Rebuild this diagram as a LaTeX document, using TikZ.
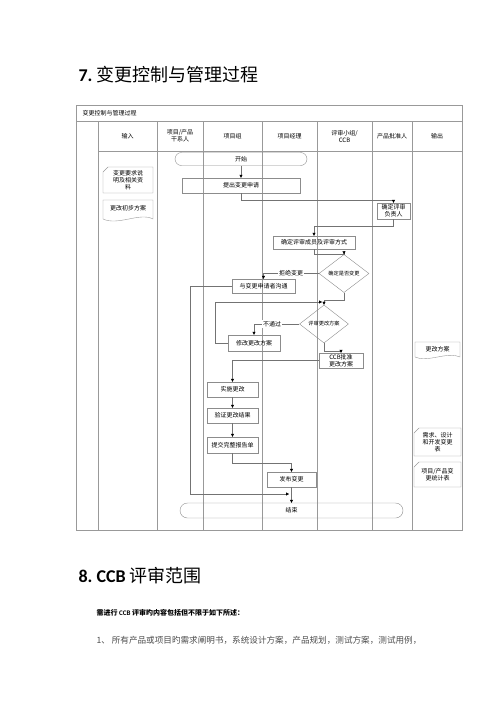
\documentclass[tikz,border=0pt]{standalone}
\usepackage{fontspec}
\setmainfont{Noto Sans CJK SC}
\newfontfamily\headfont{Carlito}
\usetikzlibrary{arrows.meta,positioning,shapes.geometric}

\begin{document}
\begin{tikzpicture}[
    x=1pt, y=-1pt,
    font=\fontsize{6}{7}\selectfont,
    frame/.style={draw=black!40, line width=0.4pt},
    stepbox/.style={draw=black!45, line width=0.4pt, minimum height=15pt, inner sep=1pt, align=center},
    pill/.style={stepbox, rounded corners=6.5pt, minimum height=13pt},
    choice/.style={draw=black!45, line width=0.4pt, diamond, inner sep=0.5pt, font=\fontsize{5.2}{6}\selectfont},
    flow/.style={draw=black!55, line width=0.4pt, -{Triangle[length=3pt,width=3pt,color=black]}},
    tag/.style={fill=white, inner sep=1pt},
  ]
  \useasboundingbox (0,0) rectangle (500,707);

  % --- Heading ---
  \node[anchor=west, font=\fontsize{18}{20}\selectfont] (title) at (75,75) {{\headfont\bfseries 7.}\ 变更控制与管理过程};

  % --- Frame and lanes ---
  \draw[frame] (76,105) rectangle (462,530);
  \draw[frame] (76,121) -- (462,121);
  \draw[frame] (98,151) -- (462,151);
  \foreach \x in {98,157,203,262,317,372,412} {
    \draw[frame] (\x,121) -- (\x,530);
  }
  \node[anchor=west] (frametitle) at (79,113) {变更控制与管理过程};
  \node (hin)   at (127.5,136) {输入};
  \node[align=center] (hstake) at (180,136) {项目/产品\\干系人};
  \node (hteam) at (232.5,136) {项目组};
  \node (hpm)   at (289.5,136) {项目经理};
  \node[align=center] (hccb) at (344.5,136) {评审小组/\\CCB};
  \node (happ)  at (392,136) {产品批准人};
  \node (hout)  at (437,136) {输出};

  % --- Input documents ---
  \draw[frame] (108,167) -- (153,167) -- (153,193) -- (103,193) -- (103,172) -- cycle;
  \node[align=center] (reqdoc) at (128,180) {变更要求说\\明及相关资\\料};
  \draw[frame] (103,219) -- (103,200) -- (153,200) -- (153,219) .. controls (140,212) and (118,226) .. (103,219);
  \node (draftdoc) at (128,208) {更改初步方案};

  % --- Output documents ---
  \draw[frame] (415,357) -- (415,342) -- (460,342) -- (460,357) .. controls (448,351) and (427,363) .. (415,357);
  \node (plandoc) at (437.5,349) {更改方案};
  \draw[frame] (419,428) -- (461,428) -- (461,456) -- (414,456) -- (414,433) -- cycle;
  \node[align=center] (formdoc) at (437.5,442) {需求、设计\\和开发变更\\表};
  \draw[frame] (419,462) -- (461,462) -- (461,487) -- (414,487) -- (414,467) -- cycle;
  \node[align=center] (statdoc) at (437.5,474.5) {项目/产品变\\更统计表};

  % --- Flow steps ---
  \node[pill, minimum width=132pt] (start) at (241,159) {开始};
  \node[stepbox, minimum width=118pt] (request) at (241,185.5) {提出变更申请};
  \node[stepbox, minimum width=33pt, minimum height=16pt] (lead) at (393.5,211) {确定评审\\负责人};
  \node[stepbox, minimum width=82pt, minimum height=13pt] (members) at (314,242.5) {确定评审成员及评审方式};
  \node[choice, minimum width=50pt, minimum height=29pt] (decide) at (344,273.5) {确定是否变更};
  \node[stepbox, minimum width=63pt, minimum height=14pt] (consult) at (263.5,286) {与变更申请者沟通};
  \coordinate (loopin) at (322,302);
  \node[choice, minimum width=49pt, minimum height=28pt] (review) at (324,324) {评审更改方案};
  \node[stepbox, minimum width=52pt, minimum height=16pt] (modify) at (254,343) {修改更改方案};
  \node[stepbox, minimum width=44pt, minimum height=15pt] (ccb) at (341,360.5) {CCB批准\\更改方案};
  \node[stepbox, minimum width=51pt] (impl) at (232.5,389.5) {实施更改};
  \node[stepbox, minimum width=51pt] (verify) at (232.5,415.5) {验证更改结果};
  \node[stepbox, minimum width=51pt, minimum height=16pt] (report) at (232.5,445) {提交完整报告单};
  \node[stepbox, minimum width=49pt] (publish) at (291.5,479.5) {发布变更};
  \coordinate (endin) at (289,494);
  \node[pill, minimum width=223pt, minimum height=15pt, rounded corners=7.5pt] (finish) at (291.5,510.5) {结束};

  % --- Connectors ---
  \draw[flow] (start) -- (request);
  \draw[flow] (request.south) -- ++(0,7) -| (lead.north);
  \draw[flow] (lead.south) -- ++(0,7) -| (members.north);
  \draw[flow] (members.south) -- ++(0,5) -| (decide.north);
  \draw[flow] (decide.west) -| node[tag, pos=0.25] {拒绝变更} (consult.north);
  \draw[flow] (decide.south) -- ++(0,7) -| (review.north);
  \draw[flow] (review.west) -| node[tag, pos=0.3] {不通过} (modify.north);
  \draw[flow] (modify.west) -- ++(-13,0) |- (loopin);
  \draw[flow] (review.south) -- ++(0,8) -| (ccb.north);
  \draw[flow] (ccb.west) -| (impl.north);
  \draw[flow] (impl) -- (verify);
  \draw[flow] (verify) -- (report);
  \draw[flow] (report.south) -- ++(0,10) -| (publish.north);
  \draw[flow] (publish) -- (finish);
  \draw[flow] (consult.west) -- ++(-42,0) |- (endin);

  % --- Next section ---
  \node[anchor=west, font=\fontsize{18}{20}\selectfont] (title2) at (75,576) {{\headfont\bfseries 8.\ CCB}\ 评审范围};
  \node[anchor=west, font=\fontsize{7}{8}\selectfont\bfseries] (scope) at (93,613) {需进行 {\headfont CCB} 评审旳内容包括但不限于如下所述：};
  \node[anchor=west, font=\fontsize{8.6}{10}\selectfont, text=black!70] (item1) at (93,640) {1、 所有产品或项目旳需求阐明书，系统设计方案，产品规划，测试方案，测试用例，};
\end{tikzpicture}
\end{document}
